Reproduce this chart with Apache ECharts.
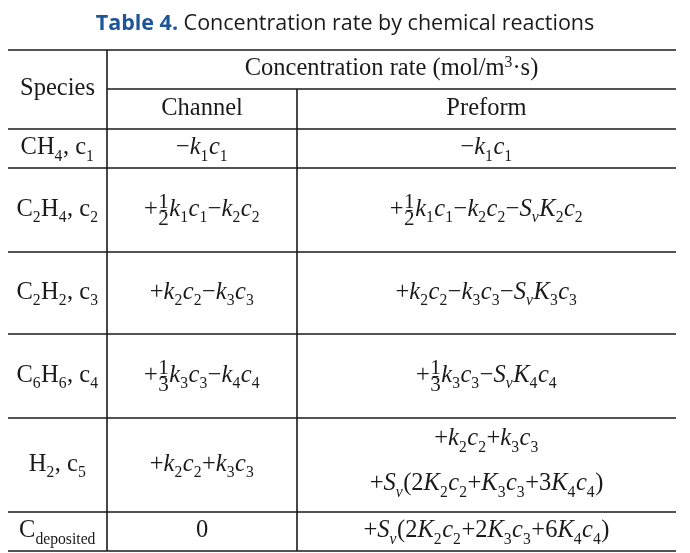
<!DOCTYPE html>
<html><head><meta charset="utf-8">
<script src="https://cdn.jsdelivr.net/npm/echarts@6/dist/echarts.min.js"></script>
<style>html,body{margin:0;padding:0;background:#fff}#c{width:690px;height:553px}</style>
</head><body><div id="c"></div>
<script>
// ---- table content ----
const titleBold = 'Table 4.';
const titleText = ' Concentration rate by chemical reactions';
const headSpecies = 'Species';
const headRate = 'Concentration rate (mol/m^3·s)';
const headColumns = ['Channel', 'Preform'];
const species = ['CH_4, c_1', 'C_2H_4, c_2', 'C_2H_2, c_3', 'C_6H_6, c_4', 'H_2, c_5', 'C_{deposited}'];
const channelRates = ['−k_1c_1', '+[1/2]k_1c_1−k_2c_2', '+k_2c_2−k_3c_3', '+[1/3]k_3c_3−k_4c_4', '+k_2c_2+k_3c_3', '0'];
const preformRates = ['−k_1c_1', '+[1/2]k_1c_1−k_2c_2−S_vK_2c_2', '+k_2c_2−k_3c_3−S_vK_3c_3', '+[1/3]k_3c_3−S_vK_4c_4',
  '+k_2c_2+k_3c_3\n+S_v(2K_2c_2+K_3c_3+3K_4c_4)', '+S_v(2K_2c_2+2K_3c_3+6K_4c_4)'];

// ---- layout (pixels in axis units) ----
const colEdges = [8, 107, 297, 676];
const headEdges = [50, 89, 129];
const rowEdges = [129, 168, 252, 334, 418, 512, 551];
const FONT = '"Liberation Serif", "Times New Roman", serif';
const FS = 24.5, SUB = 0.64, FR = 0.86, INK = '#1a1a1a', LINE_GAP = 45;

const ctx = document.createElement('canvas').getContext('2d');
function measure(t, fs, it) { ctx.font = (it ? 'italic ' : '') + fs + 'px ' + FONT; return ctx.measureText(t).width; }

function parse(str, math) {
  const runs = []; let i = 0;
  const isLetter = ch => /[A-Za-z]/.test(ch);
  function pushChars(s, kind, fresh) {
    let first = true;
    for (const ch of s) {
      const it = math && isLetter(ch);
      const last = runs[runs.length - 1];
      if (!(fresh && first) && last && last.kind === kind && last.it === it && !last.sealed) last.t += ch;
      else runs.push({ kind, it, t: ch });
      first = false;
    }
  }
  while (i < str.length) {
    const ch = str[i];
    if (ch === '_' || ch === '^') {
      let s;
      if (str[i + 1] === '{') { const j = str.indexOf('}', i); s = str.slice(i + 2, j); i = j + 1; }
      else { s = str[i + 1]; i += 2; }
      pushChars(s, ch === '_' ? 'sub' : 'sup', true);
      runs[runs.length - 1].sealed = true;
    } else if (ch === '[') {
      const j = str.indexOf(']', i);
      const parts = str.slice(i + 1, j).split('/');
      runs.push({ kind: 'frac', num: parts[0], den: parts[1] });
      i = j + 1;
    } else { pushChars(ch, 'n', false); i++; }
  }
  return runs;
}
function runFs(r) { return r.kind === 'n' ? FS : (r.kind === 'frac' ? FS * FR : FS * SUB); }
function runWidth(r) {
  if (r.kind === 'frac') { const f = FS * FR; return Math.max(measure(r.num, f, false), measure(r.den, f, false)) + 1; }
  return measure(r.t, runFs(r), r.it) + (r.kind === 'sub' ? 0.5 : 0);
}
function T(t, x, baseline, fs, it, align) {
  return { type: 'text', x: x, y: baseline - 0.34 * fs, silent: true,
    style: { text: t, fontSize: fs, fontFamily: FONT, fontStyle: it ? 'italic' : 'normal', fill: INK, align: align || 'left', verticalAlign: 'middle' } };
}
function layoutLine(str, math, cx, baseline, out) {
  const runs = parse(str, math);
  const ws = runs.map(runWidth);
  const total = ws.reduce((a, b) => a + b, 0);
  let x = cx - total / 2;
  runs.forEach((r, k) => {
    if (r.kind === 'frac') {
      const f = FS * FR, mid = x + ws[k] / 2, bar = baseline - 0.3 * FS;
      out.push(T(r.num, mid, bar - 1, f, false, 'center'));
      out.push(T(r.den, mid, bar + 2 + 0.68 * f, f, false, 'center'));
      out.push({ type: 'line', silent: true, shape: { x1: mid - 3, y1: bar, x2: mid + 3, y2: bar }, style: { stroke: INK, lineWidth: 1 } });
    } else {
      const fs = runFs(r);
      const b = r.kind === 'sub' ? baseline + 0.22 * FS : (r.kind === 'sup' ? baseline - 0.36 * FS : baseline);
      out.push(T(r.t, x, b, fs, r.it, 'left'));
    }
    x += ws[k];
  });
}

// ---- cells ----
const cells = [];
cells.push({ box: [colEdges[0], headEdges[0], colEdges[1], headEdges[2]], text: headSpecies, math: false });
cells.push({ box: [colEdges[1], headEdges[0], colEdges[3], headEdges[1]], text: headRate, math: false });
cells.push({ box: [colEdges[1], headEdges[1], colEdges[2], headEdges[2]], text: headColumns[0], math: false });
cells.push({ box: [colEdges[2], headEdges[1], colEdges[3], headEdges[2]], text: headColumns[1], math: false });
species.forEach((s, i) => {
  const y0 = rowEdges[i], y1 = rowEdges[i + 1];
  cells.push({ box: [colEdges[0], y0, colEdges[1], y1], text: s, math: false });
  cells.push({ box: [colEdges[1], y0, colEdges[2], y1], text: channelRates[i], math: true });
  cells.push({ box: [colEdges[2], y0, colEdges[3], y1], text: preformRates[i], math: true });
});

// ---- rules ----
const rules = [];
rules.push([colEdges[0], headEdges[0], colEdges[3], headEdges[0]]);
rules.push([colEdges[1], headEdges[1], colEdges[3], headEdges[1]]);
rowEdges.forEach(y => rules.push([colEdges[0], y, colEdges[3], y]));
rules.push([colEdges[1], headEdges[0], colEdges[1], rowEdges[rowEdges.length - 1]]);
rules.push([colEdges[2], headEdges[1], colEdges[2], rowEdges[rowEdges.length - 1]]);

const chart = echarts.init(document.getElementById('c'), null, { renderer: 'canvas' });
chart.setOption({
  animation: false,
  backgroundColor: '#fff',
  title: {
    text: '{b|' + titleBold + '}{n|' + titleText + '}',
    left: 'center', top: 5,
    textStyle: {
      rich: {
        b: { fontFamily: '"Open Sans", sans-serif', fontWeight: 'bold', fontSize: 21.5, color: '#1d5597', lineHeight: 28 },
        n: { fontFamily: '"Open Sans", sans-serif', fontWeight: 'normal', fontSize: 21.5, color: '#1a1a1a', lineHeight: 28 }
      }
    }
  },
  grid: { left: 0, right: 0, top: 0, bottom: 0 },
  xAxis: { type: 'value', min: 0, max: 690, show: false },
  yAxis: { type: 'value', min: 0, max: 553, inverse: true, show: false },
  series: [
    {
      type: 'custom', silent: true,
      data: rules,
      renderItem: function (params, api) {
        const a = api.coord([api.value(0), api.value(1)]);
        const b = api.coord([api.value(2), api.value(3)]);
        return { type: 'line', shape: { x1: a[0], y1: a[1], x2: b[0], y2: b[1] }, style: { stroke: INK, lineWidth: 1.6 } };
      }
    },
    {
      type: 'custom', silent: true,
      data: cells.map(c => c.box),
      renderItem: function (params, api) {
        const c = cells[params.dataIndex];
        const a = api.coord([api.value(0), api.value(1)]);
        const b = api.coord([api.value(2), api.value(3)]);
        const cx = (a[0] + b[0]) / 2, cy = (a[1] + b[1]) / 2;
        const lines = c.text.split('\n');
        const out = [];
        lines.forEach((ln, k) => {
          const baseline = cy + (k - (lines.length - 1) / 2) * LINE_GAP + 0.32 * FS - (lines.length > 1 ? 3 : 0);
          layoutLine(ln, c.math, cx, baseline, out);
        });
        return { type: 'group', children: out };
      }
    }
  ]
});
</script>
</body></html>
